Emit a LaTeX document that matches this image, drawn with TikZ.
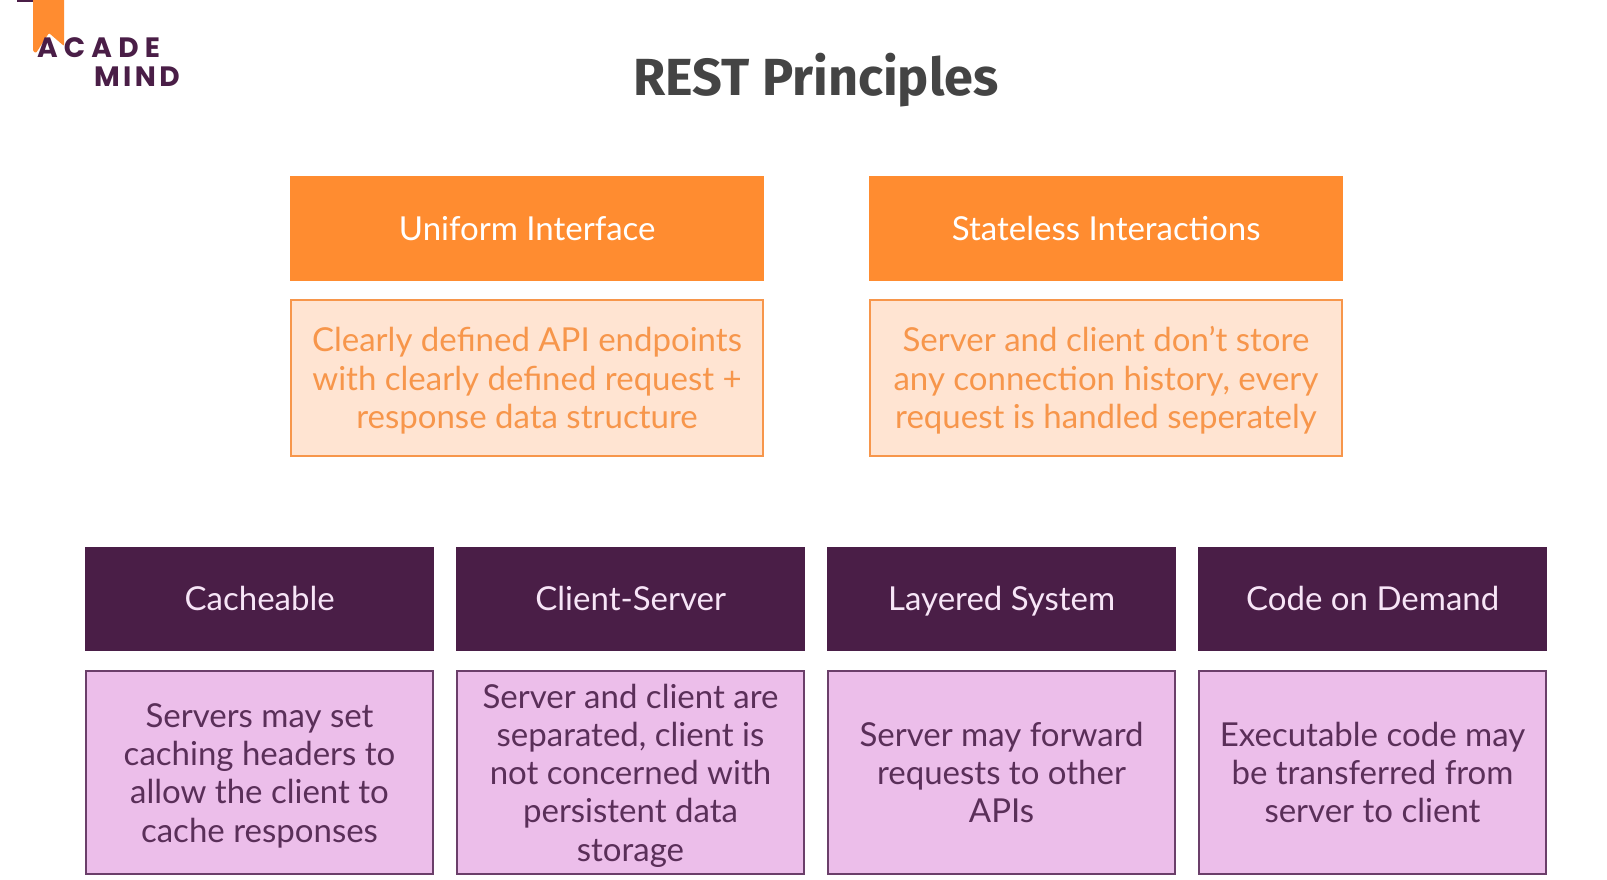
\documentclass[tikz,border=0pt]{standalone}
\usepackage{fontspec}
\setmainfont{Lato}
\newfontfamily\titlefont{Fira Sans}[UprightFont=* Bold]
\newfontfamily\logofontA{Poppins}[UprightFont=* Bold,LetterSpace=22]
\newfontfamily\logofontB{Poppins}[UprightFont=* Bold,LetterSpace=12]
\definecolor{orangeA}{HTML}{FF8C30}
\definecolor{orangeL}{HTML}{FFE4D2}
\definecolor{orangeT}{HTML}{F7964B}
\definecolor{purpleD}{HTML}{4A1E47}
\definecolor{purpleL}{HTML}{ECBEEA}
\definecolor{purpleT}{HTML}{5A2F59}
\definecolor{purpleE}{HTML}{6B3F6A}
\definecolor{titlegray}{HTML}{444444}
\newcommand{\topSup}[1]{\rule{0pt}{\dimexpr 36.8pt+38.3pt*(#1-1)\relax}}
\newcommand{\botSup}{\rule[-11.5pt]{0pt}{1pt}}
\tikzset{
  x=1pt,y=-1pt,
  bodyfont/.style={font=\fontsize{33}{38.3}\selectfont,align=center,inner sep=0pt},
  headtext/.style={bodyfont,execute at begin node=\rule{0pt}{35pt},execute at end node=\botSup},
  desctext/.style={bodyfont,execute at begin node=\topSup{#1},execute at end node=\botSup},
  headO/.style={headtext,fill=orangeA,text=white,minimum width=474pt,minimum height=105pt,anchor=north west},
  descO/.style={desctext=#1,fill=orangeL,draw=orangeT,line width=2pt,text=orangeT,minimum width=472pt,minimum height=156pt,anchor=center},
  headP/.style={headtext,fill=purpleD,text=purpleL!40!white,minimum width=349pt,minimum height=104pt,anchor=north west},
  descP/.style={desctext=#1,fill=purpleL,draw=purpleE,line width=2pt,text=purpleT,minimum width=347pt,minimum height=203pt,anchor=center}
}
\begin{document}
\begin{tikzpicture}
\useasboundingbox (0,0) rectangle (1607,879);
\fill[white] (0,0) rectangle (1607,879);
% logo
\fill[purpleD] (17,0) rectangle (33,2);
\fill[orangeA,rounded corners=1pt] (33,-2) -- (64,-2) -- (64,46) -- (49,33) -- (36,53) -- (33,51) -- cycle;
\node[font=\fontsize{28}{28}\selectfont\logofontA,text=purpleD,anchor=base west,inner sep=0pt] (logoA) at (37,57) {ACADE};
\node[font=\fontsize{28}{28}\selectfont\logofontB,text=purpleD,anchor=base west,inner sep=0pt] (logoB) at (94,86) {MIND};
% title
\node[font=\fontsize{52.2}{52.2}\selectfont\titlefont,text=titlegray,inner sep=0pt,anchor=base] (title) at (816,95) {REST Principles};
% orange
\node[headO] (h1) at (290,176) {Uniform Interface};
\node[headO] (h2) at (869,176) {Stateless Interactions};
\node[descO=3] (d1) at (527,377.5) {Clearly defined API endpoints\\with clearly defined request +\\response data structure};
\node[descO=3] (d2) at (1106,377.5) {Server and client don’t store\\any connection history, every\\request is handled seperately};
% purple
\node[headP] (p1) at (85,547) {Cacheable};
\node[headP] (p2) at (456,547) {Client-Server};
\node[headP] (p3) at (827,547) {Layered System};
\node[headP] (p4) at (1198,547) {Code on Demand};
\node[descP=4] (q1) at (259.5,772) {Servers may set\\caching headers to\\allow the client to\\cache responses};
\node[descP=5] (q2) at (630.5,772) {Server and client are\\separated, client is\\not concerned with\\persistent data\\storage};
\node[descP=3] (q3) at (1001.5,772) {Server may forward\\requests to other\\APIs};
\node[descP=3] (q4) at (1372.5,772) {Executable code may\\be transferred from\\server to client};
\end{tikzpicture}
\end{document}
